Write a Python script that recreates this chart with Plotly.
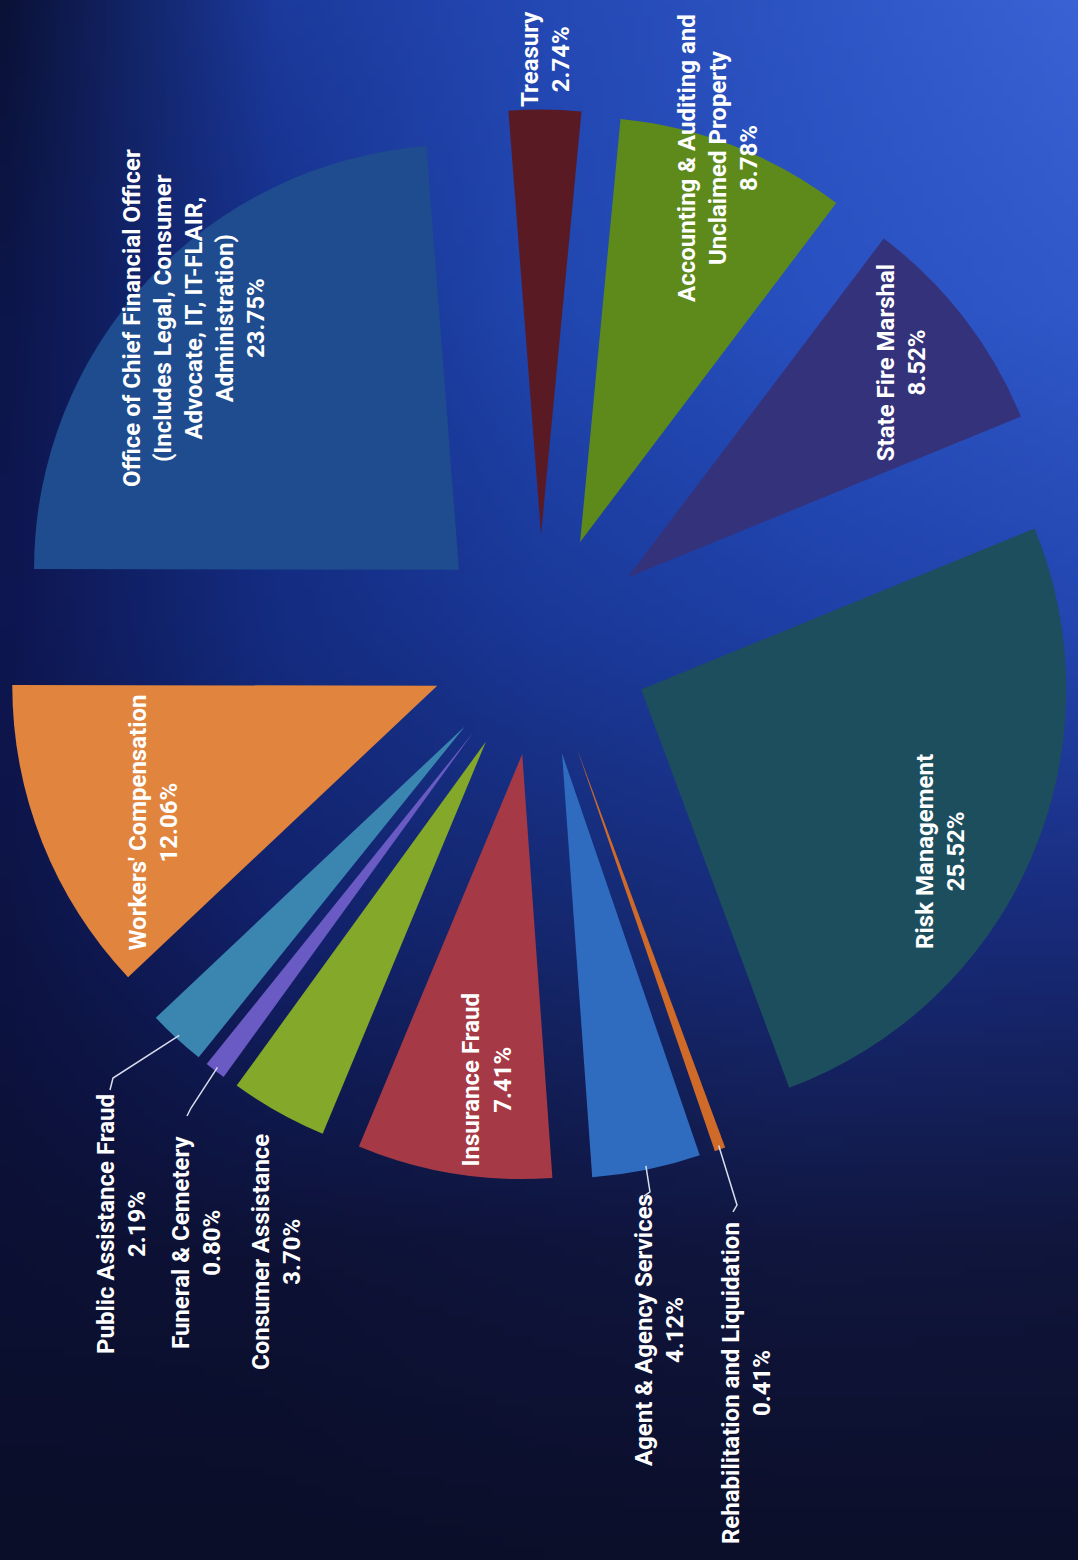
import base64
import math
import struct
import zlib

import numpy as np
import plotly.graph_objects as go

W, H = 1078, 1560

# ---------------- data ----------------
categories = [
    "Treasury",
    "Accounting & Auditing and Unclaimed Property",
    "State Fire Marshal",
    "Risk Management",
    "Rehabilitation and Liquidation",
    "Agent & Agency Services",
    "Insurance Fraud",
    "Consumer Assistance",
    "Funeral & Cemetery",
    "Public Assistance Fraud",
    "Workers' Compensation",
    "Office of Chief Financial Officer (Includes Legal, Consumer Advocate, IT, IT-FLAIR, Administration)",
]
shares = [2.74, 8.78, 8.52, 25.52, 0.41, 4.12, 7.41, 3.70, 0.80, 2.19, 12.06, 23.75]

# wrapped label text (name lines)
label_lines = [
    ["Treasury"],
    ["Accounting & Auditing and", "Unclaimed Property"],
    ["State Fire Marshal"],
    ["Risk Management"],
    ["Rehabilitation and Liquidation"],
    ["Agent & Agency Services"],
    ["Insurance Fraud"],
    ["Consumer Assistance"],
    ["Funeral & Cemetery"],
    ["Public Assistance Fraud"],
    ["Workers' Compensation"],
    ["Office of Chief Financial Officer", "(Includes Legal, Consumer", "Advocate, IT, IT-FLAIR,", "Administration)"],
]

slice_colors = [
    "#5a1a24", "#5e8a1c", "#35327c", "#1d4e5e", "#d06a28", "#2f6cc0",
    "#a53a46", "#84a82a", "#6a5ac4", "#3a86b0", "#e0843e", "#1e4c8e",
]

# ---------------- layout / style config ----------------
R = 425.0          # pie radius in px
PULL = 0.26        # explode fraction
CX, CY = 540.0, 645.0
ROT = -4.4         # start angle of first slice (deg, clockwise from 12 o'clock)
FONT = dict(family="Roboto, 'Open Sans', sans-serif", size=24, color="white", weight="bold")
LEADER_COLOR = "#d8dcec"

# inside / near labels: (radial fraction of R beyond pull, angle offset deg)
inside_label_cfg = {
    0: (1.12, 0.0),
    1: (0.96, -1.2),
    2: (0.82, -0.4),
    3: (0.80, 3.6),
    6: (0.77, -2.3),
    10: (0.74, -3.1),
    11: (0.86, 0.5),
}
# outside labels: label block centre (px) and leader elbow/end points (px)
outside_label_cfg = {
    9: dict(pos=(121, 1224), leader=[(113, 1078), (110, 1090)]),
    8: dict(pos=(196, 1242), leader=[(191, 1108), (187, 1116)]),
    7: dict(pos=(276, 1252), leader=None),
    5: dict(pos=(659, 1330), leader=[(650, 1192), (644, 1196)]),
    4: dict(pos=(746, 1383), leader=[(737, 1205), (733, 1212)]),
}


# ---------------- background gradient image ----------------
def hex_rgb(h):
    h = h.lstrip("#")
    return [int(h[i:i + 2], 16) for i in (0, 2, 4)]


grid_u = [0.0, 0.25, 0.5, 0.75, 1.0]
grid_v = [0.0, 0.2, 0.4, 0.6, 0.8, 1.0]
grid_hex = [
    ["#0b1238", "#1c3a9c", "#2448b4", "#2e55c4", "#3a62d4"],
    ["#0d164a", "#16308a", "#2046ae", "#2850c0", "#3058c8"],
    ["#0e1650", "#142c80", "#1a3898", "#1e40a6", "#2346b0"],
    ["#0d1444", "#12216a", "#15286e", "#182c7a", "#182a78"],
    ["#0c1034", "#0d1236", "#0f143c", "#10163e", "#10163c"],
    ["#0b0e28", "#0b0e28", "#0c0f2a", "#0c0f2a", "#0c0f2a"],
]
grid = np.array([[hex_rgb(c) for c in row] for row in grid_hex], dtype=float)

iw, ih = 108, 156
us = np.linspace(0, 1, iw)
vs = np.linspace(0, 1, ih)
rows = np.zeros((len(grid_v), iw, 3))
for r_i in range(len(grid_v)):
    for ch in range(3):
        rows[r_i, :, ch] = np.interp(us, grid_u, grid[r_i, :, ch])
img = np.zeros((ih, iw, 3))
for c_i in range(iw):
    for ch in range(3):
        img[:, c_i, ch] = np.interp(vs, grid_v, rows[:, c_i, ch])
img = np.clip(img, 0, 255).astype(np.uint8)


def png_uri(arr):
    h, w, _ = arr.shape
    raw = b"".join(b"\x00" + arr[i].tobytes() for i in range(h))

    def chunk(t, d):
        c = struct.pack(">I", len(d)) + t + d
        return c + struct.pack(">I", zlib.crc32(t + d) & 0xFFFFFFFF)

    png = (b"\x89PNG\r\n\x1a\n"
           + chunk(b"IHDR", struct.pack(">IIBBBBB", w, h, 8, 2, 0, 0, 0))
           + chunk(b"IDAT", zlib.compress(raw, 9))
           + chunk(b"IEND", b""))
    return "data:image/png;base64," + base64.b64encode(png).decode()


# ---------------- geometry helpers ----------------
total = sum(shares)
cum = np.cumsum([0.0] + shares)
mid_angles = ROT + 360.0 * (cum[:-1] + cum[1:]) / 2.0 / total


def polar_px(angle_deg, dist):
    a = math.radians(angle_deg)
    return CX + dist * math.sin(a), CY - dist * math.cos(a)


def to_paper(p):
    return p[0] / W, 1 - p[1] / H


def esc(s):
    return s.replace("&", "&amp;")


box = 2 * R * (1 + PULL)
dom_x = [(CX - box / 2) / W, (CX + box / 2) / W]
dom_y = [1 - (CY + box / 2) / H, 1 - (CY - box / 2) / H]

fig = go.Figure(
    go.Pie(
        labels=categories,
        values=shares,
        sort=False,
        direction="clockwise",
        rotation=ROT,
        pull=[PULL] * len(shares),
        marker=dict(colors=slice_colors, line=dict(width=0)),
        textinfo="none",
        hoverinfo="label+percent",
        showlegend=False,
        domain=dict(x=dom_x, y=dom_y),
    )
)

annotations = []
shapes = []
for i, name in enumerate(categories):
    text = "<br>".join(esc(l) for l in label_lines[i]) + f"<br>{shares[i]:.2f}%"
    if i in inside_label_cfg:
        f, da = inside_label_cfg[i]
        pos = polar_px(mid_angles[i] + da, R * PULL + f * R)
    else:
        cfg = outside_label_cfg[i]
        pos = cfg["pos"]
        if cfg["leader"]:
            start = polar_px(mid_angles[i], R * PULL + R - 4)
            pts = [start] + list(cfg["leader"])
            path = "M " + " L ".join(f"{to_paper(p)[0]:.5f},{to_paper(p)[1]:.5f}" for p in pts)
            shapes.append(dict(type="path", xref="paper", yref="paper", path=path,
                               line=dict(color=LEADER_COLOR, width=1.5)))
    px_, py_ = to_paper(pos)
    annotations.append(dict(
        x=px_, y=py_, xref="paper", yref="paper", text=text, showarrow=False,
        textangle=-90, xanchor="center", yanchor="middle", align="center",
        font=FONT,
    ))

fig.update_layout(
    width=W, height=H,
    margin=dict(l=0, r=0, t=0, b=0),
    paper_bgcolor="#0c1034",
    plot_bgcolor="rgba(0,0,0,0)",
    annotations=annotations,
    shapes=shapes,
    images=[dict(source=png_uri(img), xref="paper", yref="paper", x=0, y=1,
                 sizex=1, sizey=1, xanchor="left", yanchor="top",
                 sizing="stretch", layer="below")],
)

fig.write_html("out.html")
